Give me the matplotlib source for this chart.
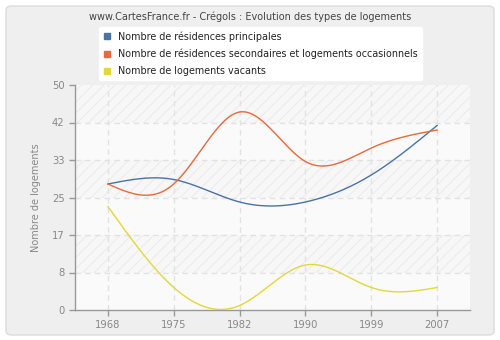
import numpy as np
import matplotlib
matplotlib.use("Agg")
import matplotlib.pyplot as plt
from matplotlib.patches import FancyBboxPatch, Rectangle
from matplotlib.lines import Line2D

years = ["1968", "1975", "1982", "1990", "1999", "2007"]
principales = [28, 29, 24, 24, 30, 41]
secondaires = [28, 28, 44, 33, 36, 40]
vacants = [23, 5, 1, 10, 5, 5]
series_names = ["Nombre de résidences principales",
                "Nombre de résidences secondaires et logements occasionnels",
                "Nombre de logements vacants"]
colors = ["#4a72a6", "#e8693c", "#e2d83a"]
ytick_vals = [0, 50/6, 100/6, 25, 200/6, 250/6, 50]
ytick_labels = ["0", "8", "17", "25", "33", "42", "50"]


def natural_spline(y, n=60):
    y = np.asarray(y, float)
    k = len(y)
    x = np.arange(k)
    A = np.zeros((k, k))
    b = np.zeros(k)
    A[0, 0] = 1
    A[-1, -1] = 1
    for i in range(1, k - 1):
        A[i, i - 1] = 1
        A[i, i] = 4
        A[i, i + 1] = 1
        b[i] = 6 * (y[i + 1] - 2 * y[i] + y[i - 1])
    M = np.linalg.solve(A, b)
    xs, ys = [], []
    for i in range(k - 1):
        t = np.linspace(0, 1, n)
        seg = (y[i] * (1 - t) + y[i + 1] * t
               + (M[i] * ((1 - t) ** 3 - (1 - t)) + M[i + 1] * (t ** 3 - t)) / 6)
        xs.append(x[i] + t)
        ys.append(seg)
    return np.concatenate(xs), np.concatenate(ys)


plt.rcParams['hatch.color'] = '#ebebeb'
plt.rcParams['hatch.linewidth'] = 0.6
plt.rcParams['font.family'] = ['DejaVu Sans']

fig = plt.figure(figsize=(5, 3.4), dpi=100)
fig.patch.set_facecolor('white')
panel = FancyBboxPatch((6 / 500, 5 / 340), 488 / 500, 329 / 340,
                       boxstyle="round,pad=0,rounding_size=0.012",
                       transform=fig.transFigure, facecolor='#efefef',
                       edgecolor='#dcdcdc', linewidth=1, zorder=-10)
fig.patches.append(panel)

ax = fig.add_axes([75 / 500, 1 - 310 / 340, 395 / 500, 225 / 340])
ax.set_zorder(1)
ax.set_facecolor('#f8f8f8')
ax.set_xlim(-0.5, 5.5)
ax.set_ylim(0, 50)

# alternating bands
for i in range(6):
    lo, hi = ytick_vals[i], ytick_vals[i + 1]
    if i % 2 == 1:
        ax.add_patch(Rectangle((-0.5, lo), 6, hi - lo, facecolor='#f7f7f7',
                               edgecolor='#e9e9e9', hatch='///', zorder=0, linewidth=0))
    else:
        ax.add_patch(Rectangle((-0.5, lo), 6, hi - lo, facecolor='#fafafa',
                               edgecolor='none', zorder=0, linewidth=0))

for v in ytick_vals[1:-1]:
    ax.axhline(v, color='#e2e2e2', lw=1, ls=(0, (4, 3)), zorder=1)
for i in range(len(years)):
    ax.axvline(i, color='#e2e2e2', lw=1, ls=(0, (4, 3)), zorder=1)

for vals, c in zip([principales, secondaires, vacants], colors):
    xs, ys = natural_spline(vals)
    ax.plot(xs, ys, color=c, lw=1, zorder=3)

ax.set_xticks(range(len(years)))
ax.set_xticklabels(years)
ax.set_yticks(ytick_vals)
ax.set_yticklabels(ytick_labels)
ax.tick_params(axis='both', colors='#999999', labelcolor='#888888',
               labelsize=7.2, length=4, width=1, direction='out')
ax.tick_params(axis='x', pad=3)
for s in ['top', 'right']:
    ax.spines[s].set_visible(False)
for s in ['left', 'bottom']:
    ax.spines[s].set_color('#999999')
    ax.spines[s].set_linewidth(1)
ax.set_ylabel("Nombre de logements", color='#888888', fontsize=7.0, labelpad=8)

fig.text(0.5, 1 - 17 / 340, "www.CartesFrance.fr - Crégols : Evolution des types de logements",
         ha='center', va='center', fontsize=7.0, color='#444444')

handles = [Line2D([], [], marker='s', linestyle='none', markersize=4.2,
                  markerfacecolor=c, markeredgecolor=c) for c in colors]
leg = fig.legend(handles, series_names, loc='upper left',
                 bbox_to_anchor=(99 / 500, 1 - 27 / 340), fontsize=6.9,
                 frameon=True, fancybox=True, framealpha=1, edgecolor='white',
                 facecolor='white', handlelength=0.8, handletextpad=0.7,
                 labelspacing=0.72, borderpad=0.45, borderaxespad=0)
leg.set_zorder(5)
for t in leg.get_texts():
    t.set_color('#222222')

fig.savefig("out.png", dpi=100, facecolor=fig.get_facecolor())
